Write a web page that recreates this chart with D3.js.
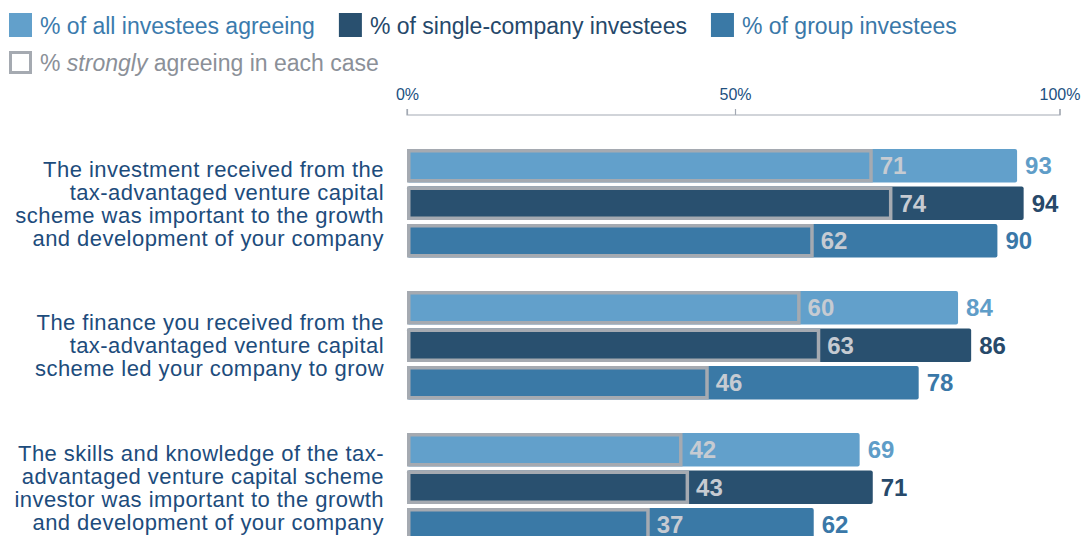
<!DOCTYPE html>
<html>
<head>
<meta charset="utf-8">
<script src="https://cdn.jsdelivr.net/npm/d3@7"></script>
<style>
  html, body { margin: 0; padding: 0; background: #ffffff; }
  svg { display: block; font-family: "Liberation Sans", Arial, Helvetica, sans-serif; }
</style>
</head>
<body>
<svg id="chart" width="1085" height="536"></svg>
<script>
// Survey statements (one array of lines per statement)
const categories = [
  ["The investment received from the", "tax-advantaged venture capital", "scheme was important to the growth", "and development of your company"],
  ["The finance you received from the", "tax-advantaged venture capital", "scheme led your company to grow"],
  ["The skills and knowledge of the tax-", "advantaged venture capital scheme", "investor was important to the growth", "and development of your company"]
];
const seriesNames = ["% of all investees agreeing", "% of single-company investees", "% of group investees"];

// % agreeing
const allAgree    = [93, 84, 69];
const singleAgree = [94, 86, 71];
const groupAgree  = [90, 78, 62];
// % strongly agreeing
const allStrong    = [71, 60, 42];
const singleStrong = [74, 63, 43];
const groupStrong  = [62, 46, 37];

const tickValues = [0, 50, 100];

const barColors   = ["#62a0cb", "#29506f", "#3a79a6"];
const valueColors = ["#5f9dc8", "#27496a", "#3a78a8"];
const legendText  = ["#3b7bad", "#25486a", "#3a78a8"];
const strongStroke = "#a5aab1";
const strongLabel  = "#c6cbd2";
const catColor = "#1d4c7c";

const agreeBySeries  = [allAgree, singleAgree, groupAgree];
const strongBySeries = [allStrong, singleStrong, groupStrong];

const rows = [];
categories.forEach((c, ci) => {
  seriesNames.forEach((s, si) => {
    rows.push({ cat: ci, series: si, agree: agreeBySeries[si][ci], strong: strongBySeries[si][ci] });
  });
});

const svg = d3.select("#chart");

const x = d3.scaleLinear().domain([0, 100]).range([407, 1063]);
const y0 = d3.scaleBand().domain(d3.range(categories.length)).range([149, 541.5]).paddingInner(33.5 / 142).paddingOuter(0);
const y1 = d3.scaleBand().domain(d3.range(seriesNames.length)).range([0, y0.bandwidth()]).paddingInner(4 / 37.5).paddingOuter(0);

// Legend
const legend = svg.append("g").attr("font-size", 23);
let lx = 9;
seriesNames.forEach((name, i) => {
  legend.append("rect").attr("x", lx).attr("y", 13).attr("width", 23).attr("height", 24).attr("fill", barColors[i]);
  const t = legend.append("text").attr("x", lx + 31).attr("y", 34).attr("fill", legendText[i]).text(name);
  lx = lx + 31 + t.node().getComputedTextLength() + 24;
});
legend.append("rect").attr("x", 10.5).attr("y", 52.5).attr("width", 20).attr("height", 20)
  .attr("fill", "#ffffff").attr("stroke", strongStroke).attr("stroke-width", 3);
const st = legend.append("text").attr("x", 40).attr("y", 71).attr("fill", "#8b9098");
st.append("tspan").text("% ");
st.append("tspan").attr("font-style", "italic").text("strongly");
st.append("tspan").text(" agreeing in each case");

// Axis
const axis = d3.axisTop(x).tickValues(tickValues).tickSize(6).tickFormat(d => d + "%");
const ax = svg.append("g").attr("transform", "translate(0,115)").call(axis);
ax.select(".domain").attr("stroke", "#a3a9b3").attr("stroke-width", 1.2).attr("d", `M${x(0)},-6V0H${x(100) - 3}V-6`);
ax.selectAll(".tick line").attr("stroke", "#a3a9b3").attr("stroke-width", 1.2);
ax.selectAll(".tick").filter(d => d === 100).attr("transform", `translate(${x(100) - 3},0)`);
ax.selectAll(".tick text").attr("fill", "#21507f").attr("font-size", 16)
  .attr("font-family", "\"Liberation Sans\", Arial, sans-serif").attr("dy", 0).attr("y", -15);

// Category labels
const cats = svg.append("g");
categories.forEach((lines, ci) => {
  const cy = y0(ci) + y0.bandwidth() / 2;
  const lh = 23;
  const first = cy - (lines.length - 1) * lh / 2 + 8;
  const t = cats.append("text").attr("text-anchor", "end").attr("font-size", 22)
    .attr("letter-spacing", 0.45).attr("fill", catColor);
  lines.forEach((ln, li) => {
    t.append("tspan").attr("x", 384).attr("y", first + li * lh).text(ln);
  });
});

// Bars
const bars = svg.append("g");
const g = bars.selectAll("g.bar").data(rows).join("g").attr("class", "bar")
  .attr("transform", d => `translate(0,${y0(d.cat) + y1(d.series)})`);

const h = y1.bandwidth();
g.append("rect")
  .attr("x", x(0)).attr("y", 0)
  .attr("width", d => x(d.agree) - x(0)).attr("height", h)
  .attr("rx", 2).attr("fill", d => barColors[d.series]);

g.append("rect")
  .attr("x", x(0) + 1.75).attr("y", 1.75)
  .attr("width", d => x(d.strong) - x(0) - 3.5).attr("height", h - 3.5)
  .attr("fill", "none").attr("stroke", strongStroke).attr("stroke-width", 3.5);

g.append("text")
  .attr("x", d => x(d.strong) + 7).attr("y", h / 2 + 8.5)
  .attr("font-size", 24).attr("font-weight", "bold").attr("fill", strongLabel)
  .text(d => d.strong);

g.append("text")
  .attr("x", d => x(d.agree) + 8).attr("y", h / 2 + 8.5)
  .attr("font-size", 24).attr("font-weight", "bold").attr("fill", d => valueColors[d.series])
  .text(d => d.agree);
</script>
</body>
</html>
